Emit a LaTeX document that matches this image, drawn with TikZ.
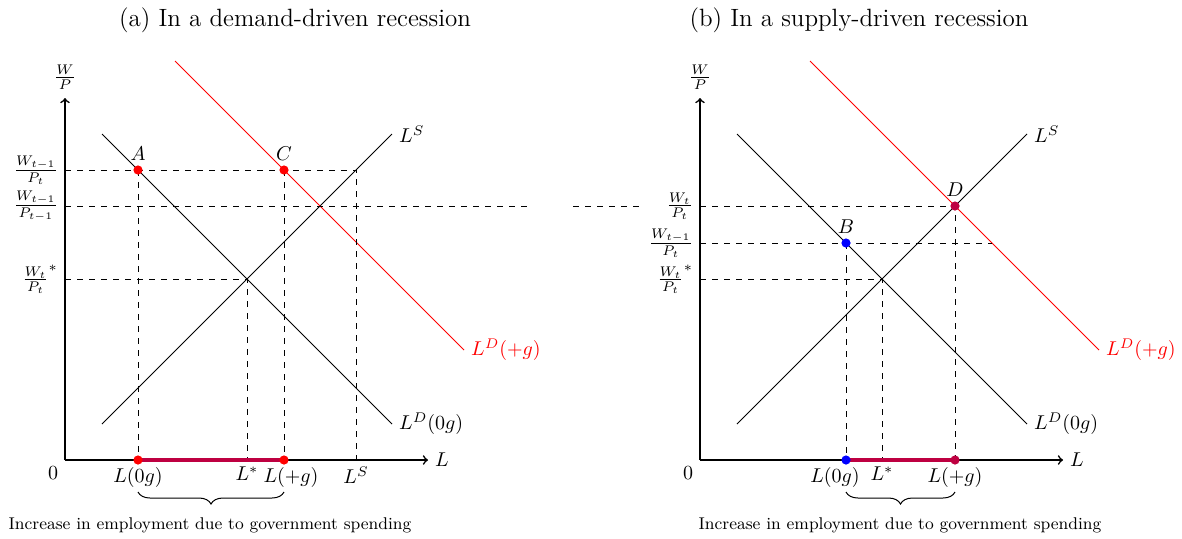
\documentclass[tikz,border=0pt]{standalone}
\usetikzlibrary{decorations.pathreplacing}
\definecolor{gainpurple}{RGB}{190,0,65}
\begin{document}
\begin{tikzpicture}[x=0.5pt,y=-0.5pt,
  axis/.style={thick,->},
  curve/.style={line width=0.5pt},
  guide/.style={dashed,line width=0.5pt},
  gain/.style={line width=1.6pt,draw=gainpurple},
  dot/.style={circle,inner sep=0pt,minimum size=4.6pt},
  braceline/.style={decorate,decoration={brace,amplitude=6pt},line width=0.5pt},
  note/.style={font=\fontsize{8.5}{10}\selectfont},
  title/.style={font=\fontsize{12.5}{15}\selectfont},
]
\useasboundingbox (0,0) rectangle (1182,538);

% titles
\node[title] (ta) at (295,20) {(a) In a demand-driven recession};
\node[title] (tb) at (859,20) {(b) In a supply-driven recession};

% ================= panel (a) =================
\coordinate (O1) at (65,460);
\coordinate (Y1) at (65,98);
\coordinate (X1) at (428,460);
\coordinate (LSa1) at (102,424);  \coordinate (LSb1) at (392,134);
\coordinate (LDa1) at (102,134);  \coordinate (LDb1) at (392,424);
\coordinate (LGa1) at (175,61);   \coordinate (LGb1) at (464,350);
\coordinate (A) at (138,170);
\coordinate (C) at (284,170);
\coordinate (S1) at (356,170);
\coordinate (E1) at (247,279);
\coordinate (H1a) at (65,206);
\coordinate (H1b) at (532,206);

\draw[axis] (O1) -- (Y1);
\draw[axis] (O1) -- (X1);
\node (wp1) at (65,77) {$\frac{W}{P}$};
\node[right] (lx1) at (X1) {$L$};
\node (zero1) at (53,473) {$0$};

\draw[curve] (LSa1) -- (LSb1) node[right] (lsl1) {$L^S$};
\draw[curve] (LDa1) -- (LDb1) node[right] (ldl1) {$L^D(0g)$};
\draw[curve,red] (LGa1) -- (LGb1) node[right] (lgl1) {$L^D(+g)$};

\draw[guide] (A -| O1) -- (S1) -- (S1 |- O1);
\draw[guide] (A) -- (A |- O1);
\draw[guide] (C) -- (C |- O1);
\draw[guide] (E1 -| O1) -- (E1) -- (E1 |- O1);
\draw[guide] (H1a) -- (H1b);

\node[left] (ya1) at (A -| O1) {$\frac{W_{t-1}}{P_t}$};
\node[left] (yb1) at (H1a) {$\frac{W_{t-1}}{P_{t-1}}$};
\node[left] (yc1) at (E1 -| O1) {${\frac{W_t}{P_t}}^{*}$};

\draw[gain] (A |- O1) -- (C |- O1);
\node[dot,fill=red] (pA) at (A) {};
\node[dot,fill=red] (pC) at (C) {};
\node[dot,fill=red] (pA0) at (A |- O1) {};
\node[dot,fill=red] (pC0) at (C |- O1) {};
\node[above=1pt] (lA) at (A) {$A$};
\node[above=1pt] (lC) at (C) {$C$};

\node[below] (l0g1) at (A |- O1) {$L(0g)$};
\node[below] (lst1) at (E1 |- O1) {$L^{*}$};
\node[below,xshift=3.5pt] (lpg1) at (C |- O1) {$L(+g)$};
\node[below] (lss1) at (S1 |- O1) {$L^S$};

\coordinate (Br1a) at (284,492);
\coordinate (Br1b) at (138,492);
\draw[braceline] (Br1a) -- (Br1b);
\node[note] (n1) at (210,525) {Increase in employment due to government spending};

% ================= panel (b) =================
\coordinate (O2) at (700,460);
\coordinate (Y2) at (700,98);
\coordinate (X2) at (1063,460);
\coordinate (LSa2) at (737,424);  \coordinate (LSb2) at (1027,134);
\coordinate (LDa2) at (737,134);  \coordinate (LDb2) at (1027,424);
\coordinate (LGa2) at (810,61);   \coordinate (LGb2) at (1099,350);
\coordinate (B) at (846,243);
\coordinate (D) at (955,206);
\coordinate (R2) at (992,243);
\coordinate (E2) at (882,279);
\coordinate (H2a) at (573,206);
\coordinate (H2b) at (643,206);

\draw[axis] (O2) -- (Y2);
\draw[axis] (O2) -- (X2);
\node (wp2) at (700,77) {$\frac{W}{P}$};
\node[right] (lx2) at (X2) {$L$};
\node (zero2) at (688,473) {$0$};

\draw[curve] (LSa2) -- (LSb2) node[right] (lsl2) {$L^S$};
\draw[curve] (LDa2) -- (LDb2) node[right] (ldl2) {$L^D(0g)$};
\draw[curve,red] (LGa2) -- (LGb2) node[right] (lgl2) {$L^D(+g)$};

\draw[guide] (H2a) -- (H2b);
\draw[guide] (D -| O2) -- (D) -- (D |- O2);
\draw[guide] (B -| O2) -- (R2);
\draw[guide] (B) -- (B |- O2);
\draw[guide] (E2 -| O2) -- (E2) -- (E2 |- O2);

\node[left] (ya2) at (D -| O2) {$\frac{W_t}{P_t}$};
\node[left] (yb2) at (B -| O2) {$\frac{W_{t-1}}{P_t}$};
\node[left] (yc2) at (E2 -| O2) {${\frac{W_t}{P_t}}^{*}$};

\draw[gain] (B |- O2) -- (D |- O2);
\node[dot,fill=blue] (pB) at (B) {};
\node[dot,fill=gainpurple] (pD) at (D) {};
\node[dot,fill=blue] (pB0) at (B |- O2) {};
\node[dot,fill=gainpurple] (pD0) at (D |- O2) {};
\node[above=1pt] (lB) at (B) {$B$};
\node[above=1pt] (lD) at (D) {$D$};

\node[below,xshift=-5.5pt] (l0g2) at (B |- O2) {$L(0g)$};
\node[below] (lst2) at (E2 |- O2) {$L^{*}$};
\node[below] (lpg2) at (D |- O2) {$L(+g)$};

\coordinate (Br2a) at (955,492);
\coordinate (Br2b) at (846,492);
\draw[braceline] (Br2a) -- (Br2b);
\node[note] (n2) at (900,525) {Increase in employment due to government spending};
\end{tikzpicture}
\end{document}
